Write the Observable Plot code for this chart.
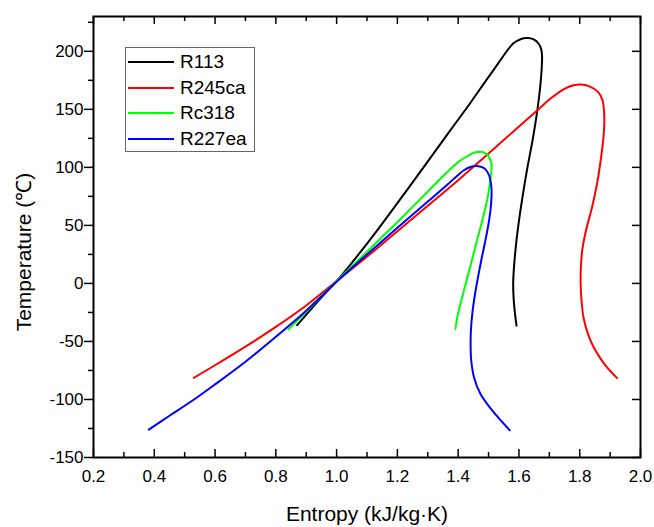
<!DOCTYPE html>
<html><head><meta charset="utf-8">
<script src="https://cdn.jsdelivr.net/npm/d3@7"></script>
<script src="https://cdn.jsdelivr.net/npm/@observablehq/plot@0.6"></script>
<style>
body{margin:0;background:#fff;}
#wrap{position:relative;width:654px;height:527px;font-family:"Liberation Sans",Arial,sans-serif;}
#legend{position:absolute;left:125px;top:47px;width:130px;height:105px;border:1px solid #666;background:#fff;box-sizing:border-box;}
.row{position:absolute;left:0;height:24px;width:128px;}
.sw{position:absolute;left:2px;top:11px;width:46px;height:2px;}
.lb{position:absolute;left:54px;top:0;line-height:24px;font-size:19px;color:#000;}
</style></head>
<body><div id="wrap"></div>
<script>
const seriesNames = ["R113", "R245ca", "Rc318", "R227ea"];
const seriesColors = ["#000000", "#ff0000", "#00ff00", "#0000ff"];

const r113S = [0.870,0.940,1.000,1.060,1.133,1.250,1.380,1.440,1.484,1.530,1.561,1.580,1.594,1.615,1.632,1.650,1.665,1.673,1.676,1.675,1.672,1.666,1.661,1.646,1.628,1.612,1.598,1.589,1.584,1.581,1.583,1.587,1.592];
const r113T = [-36,-15,2,21,45.5,87,134,155.5,172,189,200.5,206.5,209,211.2,211.4,210,206.5,202,196,186,175,160,150,125,100,75,50,30,15,0,-15,-26,-36.4];

const r245caS = [0.530,0.600,0.700,0.800,0.900,1.000,1.100,1.200,1.300,1.400,1.500,1.580,1.660,1.705,1.748,1.780,1.803,1.830,1.860,1.875,1.879,1.881,1.879,1.870,1.857,1.840,1.821,1.809,1.804,1.803,1.806,1.813,1.829,1.846,1.869,1.892,1.923];
const r245caT = [-81.3,-70.5,-54.5,-37.5,-19,2,23,45,67,89,112,130.5,149,159.5,167.5,170.8,171.4,170,165,158,151.3,140,128.4,108,86,65,46,30,15,0,-15,-30,-45,-55,-65,-73,-81.6];

const rc318S = [0.841,0.920,1.000,1.089,1.144,1.199,1.254,1.309,1.364,1.400,1.429,1.445,1.462,1.480,1.495,1.505,1.510,1.509,1.505,1.497,1.485,1.470,1.455,1.442,1.425,1.410,1.398,1.391];
const rc318T = [-39.8,-19,2,24.5,38.5,52.5,67,81.5,96,104.5,109.5,111.8,113.2,113.2,111,107,102.6,96,88,74,60,45,30,16.7,0,-15,-28,-39.2];

const r227eaS = [0.382,0.450,0.520,0.600,0.700,0.800,0.900,1.000,1.100,1.200,1.300,1.364,1.400,1.419,1.440,1.457,1.475,1.490,1.502,1.508,1.510,1.507,1.499,1.488,1.476,1.465,1.455,1.447,1.442,1.441,1.443,1.452,1.473,1.512,1.570];
const r227eaT = [-126,-114,-102,-87,-67.5,-46,-23.5,1.5,25,48,70.5,85,93.5,97.5,100.3,101.2,100.5,98.3,93,86,78,65,50,35,20,5,-10,-25,-40,-55,-66.4,-80.8,-95,-109.4,-126.6];

const xTicks = [0.2,0.4,0.6,0.8,1.0,1.2,1.4,1.6,1.8,2.0];
const xMinor = [0.3,0.5,0.7,0.9,1.1,1.3,1.5,1.7,1.9];
const yTicks = [-150,-100,-50,0,50,100,150,200];
const yMinor = [-125,-75,-25,25,75,125,175,225];

const xTitle = "Entropy (kJ/kg·K)";
const yTitle = "Temperature (℃)";

const W = 654, H = 527, mL = 93, mR = 14, mT = 16, mB = 70;
const plotW = W - mL - mR, plotH = H - mT - mB;

const sArrays = [r113S, r245caS, rc318S, r227eaS];
const tArrays = [r113T, r245caT, rc318T, r227eaT];
const rows = [];
seriesNames.forEach((name, i) => {
  sArrays[i].forEach((s, j) => rows.push({name, s, T: tArrays[i][j]}));
});

const chart = Plot.plot({
  width: W, height: H,
  marginLeft: mL, marginRight: mR, marginTop: mT, marginBottom: mB,
  style: {fontFamily: "'Liberation Sans', Arial, sans-serif", color: "#000", background: "#fff", overflow: "visible"},
  x: {domain: [0.2, 2.0]},
  y: {domain: [-150, 230]},
  color: {domain: seriesNames, range: seriesColors},
  marks: [
    Plot.line(rows, {x: "s", y: "T", z: "name", stroke: "name", curve: "catmull-rom", strokeWidth: 2}),
    Plot.tickX(xTicks, {x: d => d, insetTop: plotH - 8, stroke: "#000", strokeWidth: 1.5}),
    Plot.tickX(xMinor, {x: d => d, insetTop: plotH - 5, stroke: "#000", strokeWidth: 1.5}),
    Plot.tickX(xTicks, {x: d => d, insetBottom: plotH - 8, stroke: "#000", strokeWidth: 1.5}),
    Plot.tickX(xMinor, {x: d => d, insetBottom: plotH - 5, stroke: "#000", strokeWidth: 1.5}),
    Plot.tickY(yTicks, {y: d => d, insetLeft: plotW - 8, stroke: "#000", strokeWidth: 1.5}),
    Plot.axisY(yTicks, {tickSize: 9, tickPadding: 1, fontSize: 17, tickFormat: d => String(d), label: null, strokeWidth: 1.5}),
    Plot.axisY(yMinor, {tickSize: 5, tickFormat: () => "", label: null, strokeWidth: 1.5}),
    Plot.axisX(xTicks, {tickSize: 0, tickPadding: 12, fontSize: 17, tickFormat: d3.format(".1f"), label: null}),
    Plot.frame({stroke: "#000", strokeWidth: 2}),
    Plot.text([xTitle], {frameAnchor: "bottom", textAnchor: "middle", lineAnchor: "middle", dy: 57, fontSize: 21, fill: "#000"}),
    Plot.text([yTitle], {frameAnchor: "left", textAnchor: "middle", lineAnchor: "middle", rotate: -90, dx: -69, dy: 15, fontSize: 21, fill: "#000"})
  ]
});

const wrap = document.getElementById("wrap");
wrap.appendChild(chart);

const legend = document.createElement("div");
legend.id = "legend";
seriesNames.forEach((name, i) => {
  const row = document.createElement("div");
  row.className = "row";
  row.style.top = (2 + i * 25.6) + "px";
  const sw = document.createElement("div");
  sw.className = "sw";
  sw.style.background = seriesColors[i];
  const lb = document.createElement("div");
  lb.className = "lb";
  lb.textContent = name;
  row.appendChild(sw); row.appendChild(lb);
  legend.appendChild(row);
});
wrap.appendChild(legend);
</script>
</body></html>
